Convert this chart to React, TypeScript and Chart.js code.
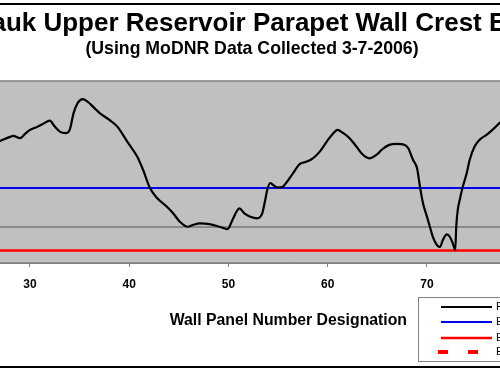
import React, { useEffect, useRef } from "react";
import { Chart, registerables } from "chart.js";

Chart.register(...registerables);

const TITLE = "Taum Sauk Upper Reservoir Parapet Wall Crest Elevation";
const SUBTITLE = "(Using MoDNR Data Collected 3-7-2006)";
const X_TITLE = "Wall Panel Number Designation";

// Wall panel number (x) and measured crest elevation (ft) of the parapet wall
const panelNumbers = [
  26.5, 27.0, 28.0, 28.3, 29.0, 29.5, 30.0, 30.7, 31.3, 32.0, 32.5, 33.0, 33.6, 34.0, 34.4, 34.8,
  35.3, 35.8, 36.5, 37.0, 38.0, 38.8, 39.8, 40.8, 41.4, 42.1, 42.8, 43.8, 44.4, 45.1, 45.9, 46.4,
  47.1, 48.1, 49.1, 49.9, 50.4, 50.8, 51.1, 51.6, 52.2, 52.9, 53.4, 53.7, 53.9, 54.2, 54.5, 54.9,
  55.4, 55.9, 56.5, 57.2, 57.9, 58.5, 59.2, 59.9, 60.5, 61.0, 61.5, 62.2, 62.9, 63.5, 64.2, 64.9,
  65.5, 66.2, 67.0, 67.6, 68.1, 68.6, 69.0, 69.3, 69.6, 70.0, 70.3, 70.6, 71.0, 71.3, 71.6, 72.0,
  72.3, 72.6, 72.85, 72.95, 73.1, 73.3, 73.6, 74.0, 74.3, 74.8, 75.3, 76.0, 76.6, 77.3, 78.0,
];
const crestElevations = [
  1596.538, 1596.551, 1596.577, 1596.583, 1596.569, 1596.596, 1596.622, 1596.641, 1596.66, 1596.681,
  1596.643, 1596.611, 1596.601, 1596.622, 1596.731, 1596.793, 1596.819, 1596.803, 1596.761, 1596.731,
  1596.686, 1596.643, 1596.547, 1596.451, 1596.365, 1596.248, 1596.186, 1596.13, 1596.09, 1596.034,
  1596.002, 1596.013, 1596.024, 1596.019, 1596.002, 1595.987, 1596.045, 1596.098, 1596.12, 1596.088,
  1596.066, 1596.056, 1596.088, 1596.173, 1596.237, 1596.282, 1596.269, 1596.254, 1596.256, 1596.29,
  1596.344, 1596.404, 1596.419, 1596.44, 1596.483, 1596.547, 1596.596, 1596.622, 1596.604, 1596.569,
  1596.515, 1596.466, 1596.44, 1596.462, 1596.498, 1596.526, 1596.532, 1596.529, 1596.506, 1596.429,
  1596.376, 1596.256, 1596.152, 1596.066, 1596.0, 1595.936, 1595.885, 1595.872, 1595.917, 1595.953,
  1595.938, 1595.896, 1595.853, 1596.002, 1596.109, 1596.173, 1596.256, 1596.344, 1596.429, 1596.515,
  1596.558, 1596.59, 1596.622, 1596.665, 1596.699,
];

const upperLevel = 1596.25; // blue reference line
const lowerLevel = 1595.85; // red reference line
const gridLevel = 1596.0; // single gray gridline

const seriesLabels = [
  "Parapet Wall Crest Elevation",
  "Elevation 1596.25",
  "Elevation 1595.85",
  "Embankment Design Crest",
];

const X_MIN = 20;
const X_MAX = 92.07;
const X_STEP = 10;
const Y_MIN = 1595.77;
const Y_MAX = 1596.935;

const CANVAS_W = 788;
const CANVAS_H = 375;
const OFFSET_X = 142;

export default function App() {
  const ref = useRef<HTMLCanvasElement | null>(null);

  useEffect(() => {
    const canvas = ref.current;
    if (!canvas) return;
    Chart.defaults.font.family = '"Liberation Sans", Arial, sans-serif';
    Chart.defaults.color = "#000";

    const framePlugin = {
      id: "frame",
      beforeDraw(chart: any) {
        const { ctx, chartArea: a } = chart;
        ctx.save();
        ctx.fillStyle = "#fff";
        ctx.fillRect(0, 0, chart.width, chart.height);
        ctx.fillStyle = "#c0c0c0";
        ctx.fillRect(a.left, a.top, a.right - a.left, a.bottom - a.top);
        ctx.strokeStyle = "#000";
        ctx.lineWidth = 2;
        ctx.beginPath();
        ctx.moveTo(0, 4);
        ctx.lineTo(chart.width, 4);
        ctx.moveTo(0, 367);
        ctx.lineTo(chart.width, 367);
        ctx.stroke();
        ctx.restore();
      },
      afterDatasetsDraw(chart: any) {
        const { ctx, chartArea: a } = chart;
        ctx.save();
        ctx.strokeStyle = "#808080";
        ctx.lineWidth = 1.5;
        ctx.strokeRect(a.left, a.top, a.right - a.left, a.bottom - a.top);
        ctx.restore();
      },
      afterDraw(chart: any) {
        const { ctx } = chart;
        const lx = 560;
        const ly = 297;
        ctx.save();
        ctx.fillStyle = "#fff";
        ctx.fillRect(lx, ly, 190, 64);
        ctx.strokeStyle = "#808080";
        ctx.lineWidth = 1;
        ctx.strokeRect(lx + 0.5, ly + 0.5, 190, 64);
        const rows = [307, 322, 338, 352];
        chart.data.datasets.forEach((ds: any, i: number) => {
          if (i >= rows.length) return;
          const y = rows[i];
          ctx.beginPath();
          ctx.strokeStyle = ds.borderColor;
          ctx.lineWidth = ds.borderWidth;
          ctx.setLineDash(ds.borderDash || []);
          ctx.moveTo(i === 3 ? 580 : 583, y);
          ctx.lineTo(634, y);
          ctx.stroke();
          ctx.setLineDash([]);
          ctx.fillStyle = "#000";
          ctx.font = '11px "Liberation Sans", Arial, sans-serif';
          ctx.textBaseline = "middle";
          ctx.fillText(ds.label, 638, y);
        });
        ctx.restore();
      },
    };

    const chart = new Chart(canvas, {
      type: "line",
      data: {
        datasets: [
          {
            label: seriesLabels[0],
            data: panelNumbers.map((x, i) => ({ x, y: crestElevations[i] })),
            borderColor: "#000",
            borderWidth: 2.2,
            pointRadius: 0,
            cubicInterpolationMode: "monotone",
          },
          {
            label: seriesLabels[1],
            data: [
              { x: X_MIN, y: upperLevel },
              { x: X_MAX, y: upperLevel },
            ],
            borderColor: "#0000ee",
            borderWidth: 2,
            pointRadius: 0,
          },
          {
            label: seriesLabels[2],
            data: [
              { x: X_MIN, y: lowerLevel },
              { x: X_MAX, y: lowerLevel },
            ],
            borderColor: "#ff0000",
            borderWidth: 2.5,
            pointRadius: 0,
          },
          {
            label: seriesLabels[3],
            data: [],
            borderColor: "#ff0000",
            borderWidth: 4,
            borderDash: [10, 20],
            pointRadius: 0,
          },
        ],
      },
      options: {
        animation: false,
        responsive: false,
        devicePixelRatio: 1,
        layout: { padding: { top: 0, left: 0, right: 0, bottom: 42 } },
        plugins: {
          legend: { display: false },
          tooltip: { enabled: false },
          title: {
            display: true,
            text: TITLE,
            font: { size: 26, weight: "bold", lineHeight: 1.2 },
            color: "#000",
            padding: { top: 8, bottom: 0 },
          },
          subtitle: {
            display: true,
            text: SUBTITLE,
            font: { size: 17.7, weight: "bold", lineHeight: 1.1 },
            color: "#000",
            padding: { top: 0, bottom: 22.3 },
          },
        },
        scales: {
          x: {
            type: "linear",
            min: X_MIN,
            max: X_MAX,
            afterFit: (s: any) => {
              s.height = 70;
            },
            ticks: {
              stepSize: X_STEP,
              autoSkip: false,
              maxRotation: 0,
              padding: 0,
              font: { size: 12, weight: "bold", lineHeight: 3 },
              color: "#000",
              callback: (v: any) => (Number(v) % 10 === 0 ? String(v) : ""),
            },
            grid: {
              display: true,
              drawOnChartArea: false,
              drawTicks: true,
              tickLength: 4,
              color: "#808080",
            },
            border: { display: true, color: "#808080" },
            title: {
              display: true,
              text: X_TITLE,
              font: { size: 15.8, weight: "bold", lineHeight: 1.2 },
              color: "#000",
              padding: { top: 0, bottom: 2.7 },
            },
          },
          y: {
            type: "linear",
            min: Y_MIN,
            max: Y_MAX,
            afterFit: (s: any) => {
              s.width = 72.75;
            },
            ticks: { display: false, stepSize: 1 },
            grid: {
              drawTicks: false,
              lineWidth: 2,
              color: (c: any) =>
                c.tick && Math.abs(c.tick.value - gridLevel) < 1e-6 ? "#8a8a8a" : "rgba(0,0,0,0)",
            },
            border: { display: false },
          },
        },
      },
      plugins: [framePlugin],
    } as any);

    return () => chart.destroy();
  }, []);

  return (
    <div
      style={{
        position: "fixed",
        left: 0,
        top: 0,
        width: 500,
        height: 375,
        overflow: "hidden",
        background: "#fff",
      }}
    >
      <canvas
        ref={ref}
        width={CANVAS_W}
        height={CANVAS_H}
        style={{ position: "absolute", left: -OFFSET_X, top: 0, width: CANVAS_W, height: CANVAS_H }}
      />
    </div>
  );
}
